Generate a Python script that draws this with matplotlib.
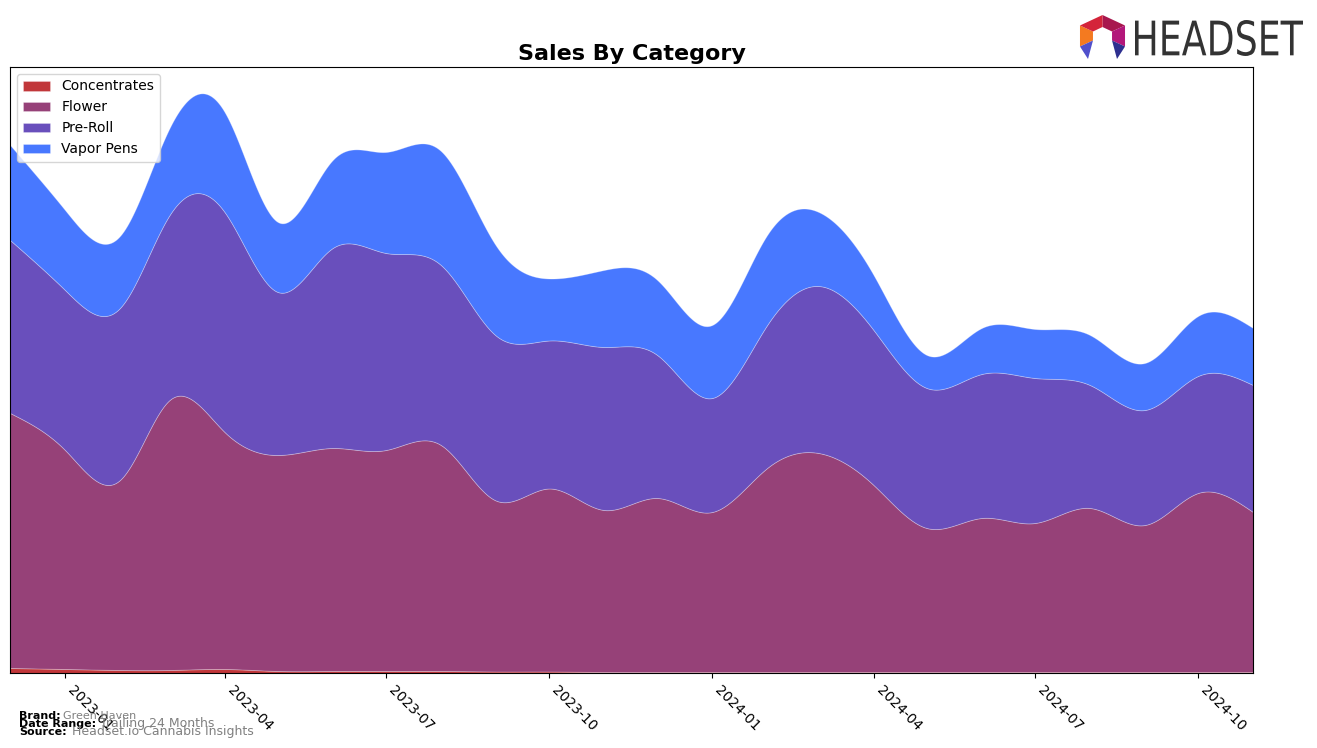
import numpy as np
import pandas as pd
import matplotlib
matplotlib.use('Agg')
import matplotlib.pyplot as plt
import matplotlib.dates as mdates
from matplotlib.textpath import TextPath
from matplotlib.patches import PathPatch, Polygon
from matplotlib.font_manager import FontProperties
from matplotlib.transforms import Affine2D

# Monthly sales by category (arbitrary units)
months = pd.date_range('2022-12-01', '2024-11-01', freq='MS')
categories = ['Concentrates', 'Flower', 'Pre-Roll', 'Vapor Pens']
concentrates = [5, 4, 3, 3, 4, 2, 2, 2, 2, 1.5, 1.5, 1, 1, 1, 1, 1, 1, 1, 1, 1, 1, 1, 1, 1]
flower = [255, 219, 190, 270, 237, 216, 223, 221, 226, 171, 183, 162,
          174, 160, 204, 219, 187, 144, 154, 149, 164, 147, 179, 160]
pre_roll = [173, 160, 172, 185, 220, 163, 200, 197, 180, 165, 148, 163,
            143, 114, 143, 167, 155, 140, 144, 145, 123, 115, 117, 127]
vapor_pens = [95, 80, 72, 87, 100, 70, 88, 101, 114, 90, 62, 77,
              75, 73, 90, 74, 55, 33, 46, 49, 50, 47, 60, 57]
colors = ['#C1373A', '#964178', '#694FBC', '#4878FF']


def natural_spline(x, y, xs):
    x = np.asarray(x, float)
    y = np.asarray(y, float)
    n = len(x)
    h = np.diff(x)
    A = np.zeros((n, n))
    b = np.zeros(n)
    A[0, 0] = 1
    A[-1, -1] = 1
    for i in range(1, n - 1):
        A[i, i - 1] = h[i - 1]
        A[i, i] = 2 * (h[i - 1] + h[i])
        A[i, i + 1] = h[i]
        b[i] = 6 * ((y[i + 1] - y[i]) / h[i] - (y[i] - y[i - 1]) / h[i - 1])
    M = np.linalg.solve(A, b)
    idx = np.clip(np.searchsorted(x, xs) - 1, 0, n - 2)
    x0, x1 = x[idx], x[idx + 1]
    hh = x1 - x0
    return (M[idx] * (x1 - xs) ** 3 / (6 * hh) + M[idx + 1] * (xs - x0) ** 3 / (6 * hh)
            + (y[idx] / hh - M[idx] * hh / 6) * (x1 - xs)
            + (y[idx + 1] / hh - M[idx + 1] * hh / 6) * (xs - x0))


xnum = mdates.date2num(months)
xs = np.linspace(xnum[0], xnum[-1], 800)
series = [concentrates, flower, pre_roll, vapor_pens]
smooth = [np.clip(natural_spline(xnum, s, xs), 0, None) for s in series]

fig = plt.figure(figsize=(13.17, 7.48), dpi=100)
ax = fig.add_axes([10 / 1317, 1 - 673 / 748, 1243 / 1317, 606 / 748])

ax.stackplot(mdates.num2date(xs), *smooth, labels=categories, colors=colors,
             edgecolor=(1, 1, 1, 0.3), linewidth=0.6)

ax.set_xlim(months[0], months[-1])
ax.set_ylim(0, 606)
ax.set_yticks([])
ax.set_xticks(pd.date_range('2023-01-01', '2024-10-01', freq='3MS'))
ax.xaxis.set_major_formatter(mdates.DateFormatter('%Y-%m'))
plt.setp(ax.get_xticklabels(), rotation=-45, ha='left', fontsize=10)
ax.set_title('Sales By Category', fontsize=16, fontweight='bold', pad=5)
ax.legend(loc='upper left', fontsize=10)

# Footer
def ftext(x, y, s, **kw):
    fig.text(x / 1317, 1 - y / 748, s, va='center', **kw)

ftext(19, 716, 'Brand:', fontsize=8, fontweight='bold')
ftext(63, 716, 'Green Haven', fontsize=8, color='gray')
ftext(19, 724, 'Date Range:', fontsize=8, fontweight='bold')
ftext(100, 724, 'Trailing 24 Months', fontsize=9, color='gray')
ftext(19, 732, 'Source:', fontsize=8, fontweight='bold')
ftext(72, 732, 'Headset.io Cannabis Insights', fontsize=9, color='gray')

# Logo
lax = fig.add_axes([1070 / 1317, 1 - 66 / 748, 240 / 1317, 60 / 748])
lax.set_xlim(1070, 1310)
lax.set_ylim(66, 6)
lax.axis('off')
tp = TextPath((0, 0), 'HEADSET', size=1, prop=FontProperties(family='DejaVu Sans'))
bb = tp.get_extents()
tr = Affine2D().translate(-bb.x0, -bb.y0).scale(168 / bb.width, -36 / bb.height).translate(1135, 56)
lax.add_patch(PathPatch(tr.transform_path(tp), color='#333333', lw=0))

cx, cy = 1102.5, 36
ang = np.radians([90, 30, -30, -90, 210, 150])
outer = [(cx + 26 * np.cos(a), cy - 21 * np.sin(a)) for a in ang]
inner = [(cx + 11 * np.cos(a), cy - 9 * np.sin(a)) for a in ang]
seg_colors = {0: '#A8174E', 1: '#B3177A', 4: '#F47A20', 5: '#D4243A'}
for i, c in seg_colors.items():
    j = (i + 1) % 6
    lax.add_patch(Polygon([outer[i], outer[j], inner[j], inner[i]], color=c, lw=0))
lax.add_patch(Polygon([outer[2], inner[2], (1117, 59)], color='#2D2F8F', lw=0))
lax.add_patch(Polygon([outer[4], inner[4], (1088, 59)], color='#5050CC', lw=0))

fig.savefig('out.png', dpi=100)
